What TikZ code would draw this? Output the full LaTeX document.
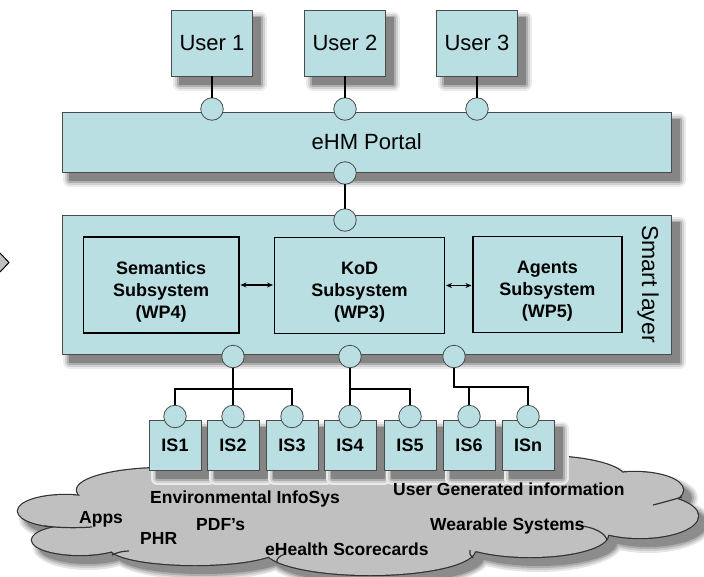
\documentclass[tikz,border=0pt]{standalone}
\usepackage{fontspec}
\setmainfont{Liberation Sans}
\usetikzlibrary{arrows.meta}
\definecolor{boxfill}{RGB}{185,223,226}
\definecolor{edgegray}{RGB}{75,75,75}
\definecolor{cloudfill}{RGB}{192,192,192}
\definecolor{cloudedge}{RGB}{50,50,50}
\begin{document}
\begin{tikzpicture}[x=1pt,y=-1pt,
  shadlayer/.style 2 args={preaction={fill=black!#1,draw=black!#1,line width=#2,line join=round,transform canvas={shift={(8pt,-8pt)}}}},
  shad/.style={shadlayer={8}{13pt},shadlayer={18}{9pt},shadlayer={32}{5pt},shadlayer={48}{1.5pt}},
  box/.style={draw=edgegray,line width=0.8pt,fill=boxfill,shad,inner sep=0pt,outer sep=0pt},
  usr/.style={box,minimum width=81pt,minimum height=66pt,font=\fontsize{22}{26}\selectfont},
  layer/.style={box,minimum width=609.5pt,font=\fontsize{22}{26}\selectfont},
  subbox/.style={draw=black,line width=1.8pt,fill=boxfill,inner sep=0pt,outer sep=0pt,minimum height=96pt},
  subtext/.style={align=center,inner sep=0pt,font=\bfseries\fontsize{18}{22}\selectfont},
  isbox/.style={box,minimum width=52pt,minimum height=50pt,font=\bfseries\fontsize{18}{21}\selectfont},
  port/.style={circle,draw=edgegray,line width=0.8pt,fill=boxfill,minimum size=22.5pt,inner sep=0pt,outer sep=0pt},
  wire/.style={draw=black,line width=1.6pt},
  biarrow/.style={line width=1.1pt,{Stealth[length=6pt,width=5pt]}-{Stealth[length=6pt,width=5pt]},shorten <=1.5pt,shorten >=1.5pt},
  cltext/.style={font=\bfseries\fontsize{17.5}{20}\selectfont,inner sep=0pt,anchor=base west}
]
\useasboundingbox (0,0) rectangle (704,576);

% partial chevron at left edge
\draw[fill=cloudfill,line width=1pt] (0,253) -- (9,262.5) -- (0,272);

% ---------- cloud ----------
\def\cloudlist{65/511/47/16, 80/540/48/15, 195/548/85/17, 370/550/105/25, 530/535/78/22, 640/516/58/22, 635/490/48/18, 540/478/85/22, 330/478/140/20, 165/490/88/22, 200/520/150/30, 370/515/250/40, 540/510/120/30}
\foreach \d/\c in {7/10,5/20,3/32,1/45} {
  \foreach \cx/\cy/\rx/\ry in \cloudlist {
    \fill[black!\c] (\cx+8,\cy+8) ellipse [x radius=\rx pt+\d pt, y radius=\ry pt+\d pt];
  }
}
\foreach \cx/\cy/\rx/\ry in \cloudlist {
  \draw[cloudedge,line width=2.4pt] (\cx,\cy) ellipse [x radius=\rx pt, y radius=\ry pt];
}
\foreach \cx/\cy/\rx/\ry in \cloudlist {
  \fill[cloudfill] (\cx,\cy) ellipse [x radius=\rx pt, y radius=\ry pt];
}
% inner arcs of the cloud
\begin{scope}[cloudedge,line width=1.2pt]
  \draw (205,470) .. controls (225,468) and (245,470) .. (258,474);
  \draw (45,526) .. controls (60,528) and (78,528) .. (92,527);
  \draw (112,555) .. controls (118,552) and (124,551) .. (129,551);
  \draw (277,563) .. controls (276,559) and (279,556) .. (285,554);
  \draw (473,558) .. controls (470,555) and (469,553) .. (470,550);
  \draw (575,525) .. controls (595,527) and (605,533) .. (607,540);
  \draw (653,505) .. controls (665,502) and (675,499) .. (682,497);
\end{scope}

% ---------- users and portal ----------
\node[usr] (u1) at (212,43) {User 1};
\node[usr] (u2) at (345,43) {User 2};
\node[usr] (u3) at (477,43) {User 3};
\node[layer,minimum height=60pt] (portal) at (366.7,142) {eHM Portal};

% ---------- smart layer ----------
\node[layer,minimum height=139pt] (smart) at (366.7,284.5) {};
\node[rotate=-90,font=\fontsize{23}{26}\selectfont,inner sep=0pt] (smartlbl) at (648,284) {Smart layer};
\node[subbox,minimum width=155.5pt] (sem) at (161.2,285) {};
\node[subbox,minimum width=170pt] (kod) at (359.5,285.5) {};
\node[subbox,minimum width=149pt] (agt) at (547.4,284.5) {};
\node[subtext] (semt) at ([yshift=-7pt]sem.center) {Semantics\\Subsystem\\(WP4)};
\node[subtext] (kodt) at ([yshift=-7pt]kod.center) {KoD\\Subsystem\\(WP3)};
\node[subtext] (agtt) at ([yshift=-7pt]agt.center) {Agents\\Subsystem\\(WP5)};
\draw[biarrow] (sem.east) -- (sem.east -| kod.west);
\draw[biarrow] (kod.east) -- (kod.east -| agt.west);

% ---------- information systems ----------
\node[isbox] (is1) at (175,445) {IS1};
\node[isbox] (is2) at (233,445) {IS2};
\node[isbox] (is3) at (292,445) {IS3};
\node[isbox] (is4) at (350,445) {IS4};
\node[isbox] (is5) at (410,445) {IS5};
\node[isbox] (is6) at (469,445) {IS6};
\node[isbox] (isn) at (528,445) {ISn};

% ---------- cloud texts ----------
\node[cltext] (t1) at (150,503) {Environmental InfoSys};
\node[cltext] (t2) at (79,523) {Apps};
\node[cltext] (t3) at (140,544) {PHR};
\node[cltext] (t4) at (196,530) {PDF’s};
\node[cltext] (t5) at (265,555) {eHealth Scorecards};
\node[cltext] (t6) at (393,495) {User Generated information};
\node[cltext] (t7) at (430,530.5) {Wearable Systems};

% ---------- ports ----------
\node[port] (p1) at (212,109) {};
\node[port] (p2) at (345,109) {};
\node[port] (p3) at (477,109) {};
\node[port] (pb) at (345,173) {};
\node[port] (st) at (345,220) {};
\node[port] (b1) at (233,356.5) {};
\node[port] (b2) at (350,356.5) {};
\node[port] (b3) at (454,356.5) {};
\node[port] (c1) at (175,416.5) {};
\node[port] (c2) at (233,416.5) {};
\node[port] (c3) at (292,416.5) {};
\node[port] (c4) at (350,416.5) {};
\node[port] (c5) at (410,416.5) {};
\node[port] (c6) at (469,416.5) {};
\node[port] (c7) at (528,416.5) {};

% ---------- wires ----------
\coordinate (h1) at (233,389);
\coordinate (h2) at (350,389);
\coordinate (h3) at (454,387);
\draw[wire] (u1) -- (p1);
\draw[wire] (u2) -- (p2);
\draw[wire] (u3) -- (p3);
\draw[wire] (pb) -- (st);
\draw[wire] (b1) -- (c2);
\draw[wire] (c1) |- (h1) -| (c3);
\draw[wire] (b2) -- (c4);
\draw[wire] (h2) -| (c5);
\draw[wire] (b3) -- (h3) -| (c7);
\draw[wire] (c6) -- (c6 |- h3);
\end{tikzpicture}
\end{document}
